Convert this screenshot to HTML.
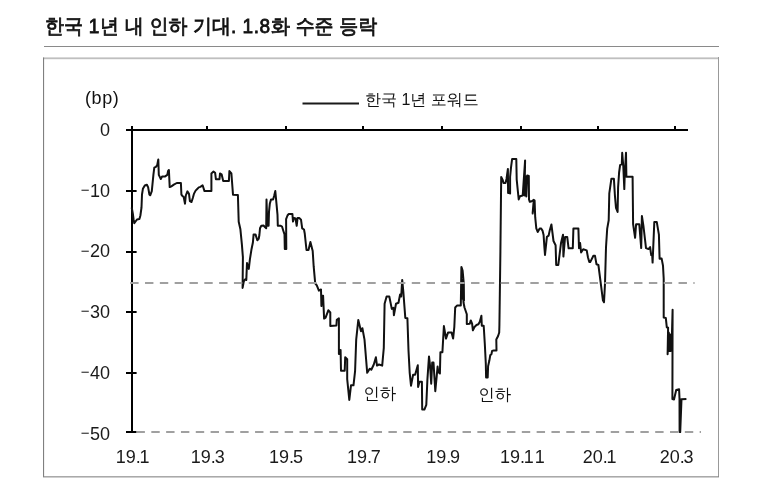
<!DOCTYPE html>
<html><head><meta charset="utf-8"><style>html,body{margin:0;padding:0;background:#fff;}svg{display:block}</style></head>
<body><svg width="763" height="491" viewBox="0 0 763 491">
<text x="45" y="0" transform="translate(0,33.4) scale(1,1.07)" font-family="'Liberation Sans','WenQuanYi Zen Hei',sans-serif" font-size="19" word-spacing="0.42" fill="#111" stroke="#111" stroke-width="0.75">한국 <tspan letter-spacing="0.84">1</tspan>년 내 인하 기대<tspan letter-spacing="0.42">.</tspan> <tspan letter-spacing="0.84">1</tspan><tspan letter-spacing="0.42">.</tspan><tspan letter-spacing="0.84">8</tspan>화 수준 등락</text>
<rect x="44" y="46" width="675" height="1" fill="#8a8a8a"/>
<rect x="43" y="57.4" width="676" height="1.8" fill="#bfbfbf"/>
<rect x="43" y="57.5" width="1.1" height="419.5" fill="#808080"/>
<rect x="718" y="57" width="1" height="420" fill="#999"/>
<rect x="43" y="476.3" width="676" height="1.1" fill="#858585"/>
<rect x="302.5" y="102.5" width="56.5" height="2" fill="#1a1a1a"/>
<text x="365" y="105.4" font-family="'Liberation Sans','WenQuanYi Zen Hei',sans-serif" font-size="16" fill="#111">한국 1년 포워드</text>
<text x="85" y="104.4" font-family="'Liberation Sans',sans-serif" font-size="18" letter-spacing="0.6" fill="#111">(bp)</text>
<text x="110" y="135.7" text-anchor="end" font-family="'Liberation Sans',sans-serif" font-size="18" fill="#1a1a1a">0</text>
<text x="110" y="196.6" text-anchor="end" font-family="'Liberation Sans',sans-serif" font-size="18" fill="#1a1a1a"><tspan font-size="15" dy="-1.7">−</tspan><tspan dy="1.7" dx="0.4">10</tspan></text>
<text x="110" y="257.2" text-anchor="end" font-family="'Liberation Sans',sans-serif" font-size="18" fill="#1a1a1a"><tspan font-size="15" dy="-1.7">−</tspan><tspan dy="1.7" dx="0.4">20</tspan></text>
<text x="110" y="318" text-anchor="end" font-family="'Liberation Sans',sans-serif" font-size="18" fill="#1a1a1a"><tspan font-size="15" dy="-1.7">−</tspan><tspan dy="1.7" dx="0.4">30</tspan></text>
<text x="110" y="378.8" text-anchor="end" font-family="'Liberation Sans',sans-serif" font-size="18" fill="#1a1a1a"><tspan font-size="15" dy="-1.7">−</tspan><tspan dy="1.7" dx="0.4">40</tspan></text>
<text x="110" y="439.6" text-anchor="end" font-family="'Liberation Sans',sans-serif" font-size="18" fill="#1a1a1a"><tspan font-size="15" dy="-1.7">−</tspan><tspan dy="1.7" dx="0.4">50</tspan></text>
<text x="115.7" y="462.5" font-family="'Liberation Sans',sans-serif" font-size="18" fill="#1a1a1a">19.<tspan dx="-1.2">1</tspan></text>
<text x="190.8" y="462.5" font-family="'Liberation Sans',sans-serif" font-size="18" fill="#1a1a1a">19.<tspan dx="-1.2">3</tspan></text>
<text x="269.1" y="462.5" font-family="'Liberation Sans',sans-serif" font-size="18" fill="#1a1a1a">19.<tspan dx="-1.2">5</tspan></text>
<text x="347" y="462.5" font-family="'Liberation Sans',sans-serif" font-size="18" fill="#1a1a1a">19.<tspan dx="-1.2">7</tspan></text>
<text x="426.2" y="462.5" font-family="'Liberation Sans',sans-serif" font-size="18" fill="#1a1a1a">19.<tspan dx="-1.2">9</tspan></text>
<text x="500" y="462.5" font-family="'Liberation Sans',sans-serif" font-size="18" fill="#1a1a1a">19.<tspan dx="-1.2">1<tspan dx="2.2">1</tspan></tspan></text>
<text x="582.7" y="462.5" font-family="'Liberation Sans',sans-serif" font-size="18" fill="#1a1a1a">20.<tspan dx="-1.2">1</tspan></text>
<text x="659.7" y="462.5" font-family="'Liberation Sans',sans-serif" font-size="18" fill="#1a1a1a">20.<tspan dx="-1.2">3</tspan></text>
<text x="363.2" y="399" font-family="'Liberation Sans','WenQuanYi Zen Hei',sans-serif" font-size="16.5" fill="#111">인하</text>
<text x="478.2" y="399.9" font-family="'Liberation Sans','WenQuanYi Zen Hei',sans-serif" font-size="16.5" fill="#111">인하</text>
<rect x="126" y="129" width="562" height="2" fill="#000"/>
<rect x="131" y="126" width="2" height="307" fill="#000"/>
<rect x="206" y="126" width="2" height="4" fill="#000"/>
<rect x="285" y="126" width="2" height="4" fill="#000"/>
<rect x="362" y="126" width="2" height="4" fill="#000"/>
<rect x="441" y="126" width="2" height="4" fill="#000"/>
<rect x="520" y="126" width="2" height="4" fill="#000"/>
<rect x="597" y="126" width="2" height="4" fill="#000"/>
<rect x="674" y="126" width="2" height="4" fill="#000"/>
<rect x="126" y="129" width="10.6" height="2" fill="#000"/>
<rect x="126" y="190" width="10.6" height="2" fill="#000"/>
<rect x="126" y="251" width="10.6" height="2" fill="#000"/>
<rect x="126" y="311" width="10.6" height="2" fill="#000"/>
<rect x="126" y="372" width="10.6" height="2" fill="#000"/>
<rect x="126" y="431" width="10.6" height="2" fill="#000"/>
<path transform="translate(0.2,0.5)" d="M131.5,207 L132.6,213 L133.4,219 L134.1,222.8 L135.5,220.8 L136.8,219 L139.2,218.6 L140.2,215 L141.3,207 L141.8,194 L142.7,188.3 L144.6,185 L146.7,184.2 L147.9,186.6 L149.2,194 L150,194.8 L151.6,190.7 L153.2,174.4 L154.1,167.1 L155.7,166.3 L157,164.7 L158.1,159 L158.6,174.4 L159.8,176.9 L160.6,178.5 L161.9,176.1 L164.6,176.1 L167.1,174.4 L167.9,170.4 L168.7,169.5 L169.5,186.6 L171.2,185.8 L173.6,184.2 L176.6,182.5 L180.7,182.5 L181.2,194.2 L182.3,195.5 L183.5,196.6 L184.8,203.2 L185.6,195 L187.2,190.9 L188.8,193.4 L189.7,200.7 L191.3,201.5 L192.6,197.5 L193.7,193.4 L195.4,190.1 L197,188.5 L198.6,186.9 L200.2,186.4 L202.4,184.8 L204.3,190.6 L211.2,190.6 L211.2,173 L213.3,171.1 L214.9,172.2 L215.7,178.7 L219.3,178.7 L219.8,173 L221.4,173.8 L223,180.4 L228.7,180.4 L229.2,170.6 L231.2,173 L232.8,194.2 L237.7,194.5 L238.5,221.3 L240.2,228.8 L241.7,244.2 L242.7,256.7 L242.4,287.4 L243.6,280.9 L245,278.7 L246.1,279.4 L246.8,262.5 L248,266.9 L248.6,268.4 L249.7,258.9 L251.2,249.3 L252.7,242 L253.4,233.9 L255.3,233.9 L257.1,239.8 L258.5,238.3 L259.2,234.5 L259.8,227.8 L261.1,225.3 L263.5,225.1 L264.7,226.6 L266,227.8 L266.3,199.1 L267.2,225.3 L268.4,225.3 L268.8,211.3 L269.6,203.3 L270.8,199.1 L272.9,199.1 L273.9,195.4 L275.1,190.5 L276.3,203.3 L277.3,214.3 L277.6,225.3 L280.6,225.3 L281.8,226 L283.1,230.2 L284.3,233.9 L284.6,248.6 L286.1,248.6 L285.9,218.6 L287.3,215 L288.6,213.4 L292.2,213.4 L292.8,221.1 L293.7,217.4 L295.3,218 L296.5,225.3 L297.4,217.4 L299,217.4 L300.8,219.2 L302,227.8 L303.8,229 L304.5,232.7 L306.3,249.5 L308.3,249.5 L310.2,241.5 L312.5,250.6 L313.5,266.2 L315,282.8 L316.6,284.9 L318.7,290.1 L320.8,289 L321.2,305.6 L321.8,295.3 L322.9,295.3 L323.9,318.1 L325.4,317.1 L328.1,309.8 L330.1,311.9 L330.1,325.4 L336.2,325 L336.6,319.4 L338.7,317.9 L338.7,353.6 L340,353.6 L340.4,349.5 L340.8,370.3 L344.5,370.3 L345,356.8 L347,358.8 L347,378.6 L349.1,399.4 L350.8,384.8 L353.3,384.8 L354.9,370.3 L356,339.1 L358.1,319.4 L360.8,330.8 L362.2,327.7 L364.3,339.1 L367,372.3 L369.5,368.2 L371.1,369.2 L373.6,364 L375.7,356.8 L376.8,365.1 L378.8,364 L382,365.1 L383.6,347.4 L384.4,303.2 L386.4,296 L389.1,296 L391.6,308.4 L393.3,307.4 L393.7,314.7 L395.8,303.2 L398.3,302.2 L399.9,293.9 L401,296 L402,279.4 L403.1,290.8 L405.1,317.4 L407.2,317.8 L408.3,350 L409.5,372.3 L410.8,385.2 L412.9,374.3 L414.9,374.3 L417.6,364.8 L417.9,386.6 L419.3,381.2 L421.7,381.2 L422,409.1 L424.2,409.1 L426.1,404.3 L427.2,379.1 L428.8,355.9 L429.9,365.5 L431,383.2 L432,362 L433.3,362 L435.1,390.7 L437.4,366.1 L438.1,371.6 L439.7,373 L440.2,351.8 L442.2,351.8 L443.7,325.6 L445.8,338.1 L447.9,331.9 L451.4,331.9 L452.9,338.1 L454.1,326.7 L455,307 L457,304.9 L460.6,304.9 L461.2,266.4 L462.4,270 L463.6,283 L463.8,300 L462.2,298 L462.2,280 L463.3,302 L464.3,307 L466.6,313.8 L466.6,323.6 L469.6,323.2 L470.6,319.9 L471.9,323.2 L472.7,329.8 L474.3,326.5 L476.3,324.5 L478.2,323.8 L479.6,321.2 L481.2,315.2 L481.6,325.2 L483.5,325.2 L484.6,343.2 L485.6,363.1 L485.9,377 L487.5,377 L487.9,365.8 L489.2,359.8 L490.1,354.5 L491.2,353.8 L491.9,350.5 L493.6,349.9 L496.3,349.9 L496.1,339 L497.9,335.5 L499,332 L499.2,325 L500.2,251 L501,176.5 L502.6,179.8 L503.3,182.5 L505.3,182.5 L506.3,178.5 L507.7,168.5 L507.9,192.4 L509.2,192.4 L509.9,193 L509.9,176.5 L510.8,167.2 L511.9,158.6 L516.1,158.6 L516.5,179.1 L518.5,199 L519.8,195.7 L522.5,195 L524.9,159.9 L524.3,195 L525.6,176 L526.1,196 L527,175 L528.6,175.5 L528.8,199 L529.6,201.3 L531,201 L533.6,199.3 L532.4,213 L534.4,200 L535,216.7 L536.1,227.9 L537.5,231.5 L539.5,227.9 L540.8,227.9 L542.3,230.1 L543.4,234.6 L544.2,247 L544.8,254.4 L545.6,247 L546.7,236.3 L548.4,235.2 L549.5,230.1 L551.2,223.9 L553.3,240.5 L555.4,244.7 L556,264.4 L558.1,264.4 L560.8,242.6 L562.8,234.3 L563.2,256.1 L564.9,236.4 L567,236.4 L568.4,247.8 L572.6,247.8 L573.2,228.1 L578.2,228.1 L578.8,247.8 L579.9,242.6 L580.9,252 L583,248.8 L586.5,249.9 L587.8,257 L589.1,261.6 L590,261.6 L593.2,255.3 L594.8,255.3 L596.3,263.8 L598.2,264.5 L600.6,283.1 L602.7,299.7 L603.8,301.8 L604.8,283.1 L605.8,246.8 L607,228.1 L608.5,219.8 L609.1,192.8 L611.2,178.2 L613.7,178.2 L614.7,194.9 L615.8,207.3 L617.4,211.5 L617.9,186.6 L618.9,172 L619.9,164.7 L621.6,163.7 L622,152.3 L623.1,165.8 L624.1,188.6 L624.5,175.1 L625.8,152.3 L626.2,176.2 L632.4,176.2 L632.9,223.7 L634.9,237.3 L635.9,223.8 L639.1,223.8 L641,247.6 L641.7,215.5 L643.3,226 L645.8,247.6 L648.3,248.6 L649.9,246.6 L651,254.6 L652,255.2 L652.4,262.1 L654.1,221.6 L656.6,221.6 L658.7,234.1 L659.4,258.3 L661.4,257.9 L662.8,265.3 L663.5,278 L663.5,317.1 L665.6,317.4 L666.6,326.8 L667.9,327.3 L667.4,353.8 L668.6,332 L669.2,350.5 L670,334 L670.6,350.5 L671.3,349.5 L672.4,309.2 L672.2,398.6 L673.8,399 L676,389.5 L678.9,388.8 L679.3,398 L679.4,431.6 L680.3,399 L680,431.6 L681.3,398.8 L686.2,398.5" fill="none" stroke="#111" stroke-width="2" stroke-linejoin="round" stroke-linecap="butt"/>
<line x1="130.2" y1="283" x2="694.6" y2="283" stroke="#a0a0a0" stroke-width="2" stroke-dasharray="8.4 6.42"/>
<line x1="136.5" y1="432" x2="701" y2="432" stroke="#a0a0a0" stroke-width="2" stroke-dasharray="8.4 6.42"/>
</svg></body></html>
